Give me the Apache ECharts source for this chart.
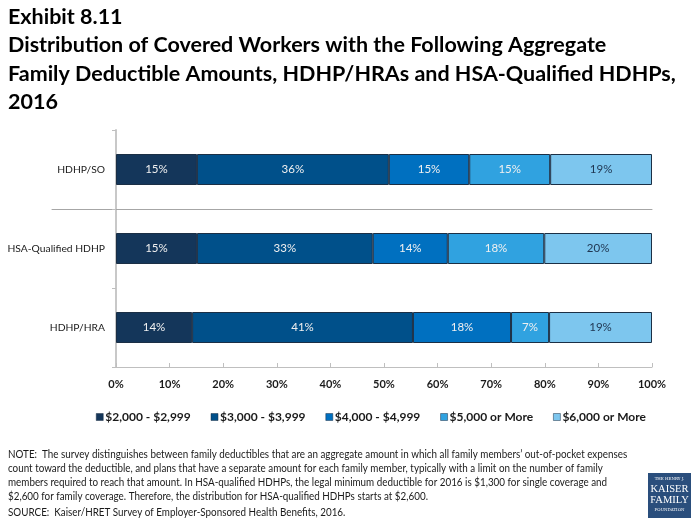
<!DOCTYPE html>
<html>
<head>
<meta charset="utf-8">
<script src="https://cdn.jsdelivr.net/npm/echarts@6/dist/echarts.min.js"></script>
<style>html,body{margin:0;padding:0;background:#fff;}#c{width:698px;height:523px;}</style>
</head>
<body>
<div id="c"></div>
<script>
var categories = ['HDHP/SO', 'HSA-Qualified HDHP', 'HDHP/HRA'];
var seriesNames = ['$2,000 - $2,999', '$3,000 - $3,999', '$4,000 - $4,999', '$5,000 or More', '$6,000 or More'];
var s2000 = [15.1, 15.1, 14.2];
var s3000 = [35.8, 32.8, 41.2];
var s4000 = [15.0, 14.0, 18.3];
var s5000 = [15.1, 18.0, 7.1];
var s6000 = [19.0, 20.1, 19.2];
var xTicks = [0, 10, 20, 30, 40, 50, 60, 70, 80, 90, 100];

var titleLines = [
  'Exhibit 8.11',
  'Distribution of Covered Workers with the Following Aggregate',
  'Family Deductible Amounts, HDHP/HRAs and HSA-Qualified HDHPs,',
  '2016'
];
var noteLines = [
  'NOTE:  The survey distinguishes between family deductibles that are an aggregate amount in which all family members\u2019 out-of-pocket expenses',
  'count toward the deductible, and plans that have a separate amount for each family member, typically with a limit on the number of family',
  'members required to reach that amount. In HSA-qualified HDHPs, the legal minimum deductible for 2016 is $1,300 for single coverage and',
  '$2,600 for family coverage. Therefore, the distribution for HSA-qualified HDHPs starts at $2,600.'
];
var sourceLine = 'SOURCE:  Kaiser/HRET Survey of Employer-Sponsored Health Benefits, 2016.';

var colors = ['#14365a', '#00508a', '#0070c0', '#30a2e0', '#7dc6ee'];
var labelColors = ['#f0f0f0', '#f0f0f0', '#f0f0f0', '#f0f0f0', '#1f3550'];
var values = [s2000, s3000, s4000, s5000, s6000];
var FONT = 'Lato';

var chart = echarts.init(document.getElementById('c'));
var series = values.map(function (v, i) {
  return {
    name: seriesNames[i],
    type: 'bar',
    stack: 'total',
    xAxisIndex: 0,
    yAxisIndex: 0,
    barWidth: 31,
    data: v,
    itemStyle: { color: colors[i], borderColor: '#1b2f45', borderWidth: 1 },
    label: {
      show: true,
      position: 'inside',
      color: labelColors[i],
      fontFamily: FONT,
      fontSize: 11.5,
      formatter: function (p) { return Math.round(p.value) + '%'; }
    },
    emphasis: { disabled: true }
  };
});

var graphics = [];
titleLines.forEach(function (t, i) {
  graphics.push({
    type: 'text', left: 8, top: 6 + i * 28.5, silent: true,
    style: { text: t, fill: '#000', font: 'bold 21.5px Lato' }
  });
});
noteLines.forEach(function (t, i) {
  graphics.push({
    type: 'text', x: 8, y: 449 + i * 14, scaleX: 0.895, silent: true,
    style: { text: t, fill: '#1a1a1a', font: '11px Lato' }
  });
});
graphics.push({
  type: 'text', x: 8, y: 507, scaleX: 0.895, silent: true,
  style: { text: sourceLine, fill: '#1a1a1a', font: '11px Lato' }
});
graphics.push({
  type: 'group', left: 648, top: 473, silent: true,
  children: [
    { type: 'rect', shape: { x: 0, y: 0, width: 43, height: 45 }, style: { fill: '#2a4e7c' } },
    { type: 'text', x: 21.5, y: 4, style: { text: 'THE HENRY J.', fill: '#fff', font: '4px "DejaVu Serif"', align: 'center' } },
    { type: 'text', x: 21.5, y: 11, style: { text: 'KAISER', fill: '#fff', font: '10.5px "Liberation Serif"', align: 'center' } },
    { type: 'text', x: 21.5, y: 22, style: { text: 'FAMILY', fill: '#fff', font: '10.5px "Liberation Serif"', align: 'center' } },
    { type: 'text', x: 21.5, y: 35, style: { text: 'FOUNDATION', fill: '#fff', font: '4px "DejaVu Serif"', align: 'center' } }
  ]
});

chart.setOption({
  animation: false,
  color: colors,
  legend: {
    left: 91, top: 406,
    itemWidth: 7, itemHeight: 7, itemGap: 20,
    icon: 'rect',
    data: seriesNames,
    itemStyle: { borderColor: '#1b2f45', borderWidth: 0.5 },
    textStyle: { fontFamily: FONT, fontWeight: 'bold', fontSize: 12, color: '#1a1a1a', width: 92, padding: [0, 0, 0, -3] },
    selectedMode: false
  },
  grid: [
    { left: 116, right: 46, top: 130, height: 237 },
    { left: 52, right: 46, top: 130, height: 79 }
  ],
  xAxis: [{
    type: 'value', gridIndex: 0,
    min: 0, max: 100, interval: 10,
    axisLine: { show: true, lineStyle: { color: '#bfbfbf', width: 1 } },
    axisTick: { show: true, inside: true, length: 4, lineStyle: { color: '#bfbfbf' } },
    splitLine: { show: false },
    axisLabel: {
      margin: 12,
      fontFamily: FONT, fontWeight: 'bold', fontSize: 11, color: '#1a1a1a',
      formatter: function (v) { return xTicks.indexOf(v) >= 0 ? v + '%' : ''; }
    }
  }, {
    type: 'value', gridIndex: 1, min: 0, max: 1,
    axisLine: { show: true, onZero: false, lineStyle: { color: '#a6a6a6', width: 1 } },
    axisTick: { show: false }, axisLabel: { show: false }, splitLine: { show: false }
  }],
  yAxis: [{
    type: 'category', gridIndex: 0,
    data: categories,
    inverse: true,
    axisLine: { show: true, lineStyle: { color: '#c8c8c8', width: 2 } },
    axisTick: { show: true, length: 4, lineStyle: { color: '#bfbfbf' } },
    splitLine: { show: false },
    axisLabel: { margin: 11, fontFamily: FONT, fontSize: 10.3, color: '#1a1a1a' }
  }, {
    type: 'value', gridIndex: 1, min: 0, max: 1,
    axisLine: { show: false }, axisTick: { show: false }, axisLabel: { show: false }, splitLine: { show: false }
  }],
  graphic: graphics,
  series: series
});
</script>
</body>
</html>
